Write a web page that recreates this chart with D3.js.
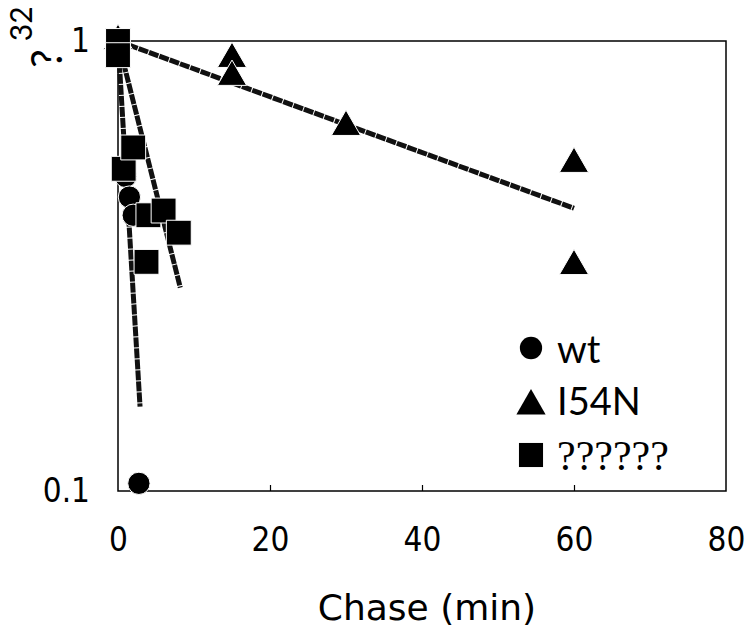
<!DOCTYPE html>
<html>
<head>
<meta charset="utf-8">
<script src="https://cdn.jsdelivr.net/npm/d3@7"></script>
<style>
  body { margin: 0; background: #fff; }
  svg { display: block; }
</style>
</head>
<body>
<div id="chart"></div>
<script>
// data (time in min, fraction remaining)
var wtTime = [0, 1, 1.5, 2, 2.75];
var wtValue = [1, 0.5, 0.45, 0.41, 0.104];

var i54nTime = [0, 15, 15, 30, 60, 60];
var i54nValue = [1, 0.912, 0.832, 0.644, 0.533, 0.316];

var sqTime = [0, 0, 0.75, 2, 4, 6, 8, 3.75];
var sqValue = [1, 0.93, 0.52, 0.58, 0.41, 0.42, 0.375, 0.323];

// fitted decay lines (endpoints)
var fitWtTime = [0, 2.9];
var fitWtValue = [1, 0.154];
var fitSqTime = [0, 8.2];
var fitSqValue = [1, 0.283];
var fitI54nTime = [0, 60];
var fitI54nValue = [1, 0.425];

var xTicks = [0, 20, 40, 60, 80];
var yTicks = [0.1, 1];
var legendNames = ['wt', 'I54N', '??????'];

var width = 751, height = 638;
var margin = {top: 41, right: 25, bottom: 147, left: 118};

var svg = d3.select('#chart').append('svg')
  .attr('width', width)
  .attr('height', height);

var x = d3.scaleLinear().domain([0, 80]).range([margin.left, width - margin.right]);
var y = d3.scaleLog().domain([0.1, 1]).range([height - margin.bottom, margin.top]);

var tickFont = "'Liberation Sans Narrow', 'DejaVu Sans Condensed', sans-serif";

// x axis, ticks point inward
var xAxis = svg.append('g')
  .attr('transform', 'translate(0,' + y(0.1) + ')')
  .call(d3.axisBottom(x).tickValues(xTicks).tickSize(-6).tickPadding(37));
xAxis.select('.domain').remove();
xAxis.selectAll('line').attr('stroke', '#000').attr('stroke-width', 1.2)
  .filter(function (d) { return d === 0 || d === 80; }).remove();
xAxis.selectAll('text').attr('font-family', tickFont).attr('font-size', 33).attr('fill', '#000');

var yAxis = svg.append('g')
  .attr('transform', 'translate(' + x(0) + ',0)')
  .call(d3.axisLeft(y).tickValues(yTicks).tickSize(0).tickPadding(28)
    .tickFormat(function (d) { return d === 1 ? '1' : '0.1'; }));
yAxis.select('.domain').remove();
yAxis.selectAll('text').attr('font-family', tickFont).attr('font-size', 33).attr('fill', '#000');

// plot frame
svg.append('rect')
  .attr('x', x(0)).attr('y', y(1))
  .attr('width', x(80) - x(0)).attr('height', y(0.1) - y(1))
  .attr('fill', 'none').attr('stroke', '#000').attr('stroke-width', 1.5);

// axis titles
svg.append('text')
  .attr('x', (x(0) + x(80)) / 2 + 5).attr('y', 620)
  .attr('text-anchor', 'middle')
  .attr('font-family', "'DejaVu Sans', sans-serif")
  .attr('font-size', 36)
  .text('Chase (min)');

var yTitle = svg.append('text')
  .attr('transform', 'translate(62,68) rotate(-90)')
  .attr('font-family', "Lato, 'Open Sans', sans-serif")
  .attr('font-size', 42);
yTitle.append('tspan').text('?');
yTitle.append('tspan').attr('dy', -30).attr('dx', 8).attr('font-size', 30).text('32');

// fit lines
var line = d3.line()
  .x(function (d) { return x(d[0]); })
  .y(function (d) { return y(d[1]); });

[[fitI54nTime, fitI54nValue], [fitSqTime, fitSqValue], [fitWtTime, fitWtValue]].forEach(function (f) {
  svg.append('path')
    .datum(d3.zip(f[0], f[1]))
    .attr('d', line)
    .attr('fill', 'none')
    .attr('stroke', '#111')
    .attr('stroke-width', 5)
    .attr('stroke-dasharray', '10,1');
});

// markers
function drawSeries(times, values, type, size) {
  svg.append('g').selectAll('path')
    .data(d3.zip(times, values))
    .enter().append('path')
    .attr('transform', function (d) { return 'translate(' + x(d[0]) + ',' + y(d[1]) + ')'; })
    .attr('d', d3.symbol().type(type).size(size))
    .attr('fill', '#000')
    .attr('stroke', '#fff')
    .attr('stroke-width', 1);
}

drawSeries(wtTime, wtValue, d3.symbolCircle, 390);
drawSeries(i54nTime, i54nValue, d3.symbolTriangle, 370);
drawSeries(sqTime, sqValue, d3.symbolSquare, 620);

// legend
var legendTypes = [d3.symbolCircle, d3.symbolTriangle, d3.symbolSquare];
var legendSizes = [390, 370, 580];
var legendY = [348, 406, 455];
var legendBase = [363, 415, 470];
var legendFonts = ["Lato, 'Open Sans', sans-serif", "Lato, 'Open Sans', sans-serif", "'Liberation Serif', 'DejaVu Serif', serif"];
var legendSize = [38, 38, 42];

legendNames.forEach(function (name, i) {
  svg.append('path')
    .attr('transform', 'translate(531,' + legendY[i] + ')')
    .attr('d', d3.symbol().type(legendTypes[i]).size(legendSizes[i]))
    .attr('fill', '#000');
  svg.append('text')
    .attr('x', 557).attr('y', legendBase[i])
    .attr('font-family', legendFonts[i])
    .attr('font-size', legendSize[i])
    .text(name);
});
</script>
</body>
</html>
